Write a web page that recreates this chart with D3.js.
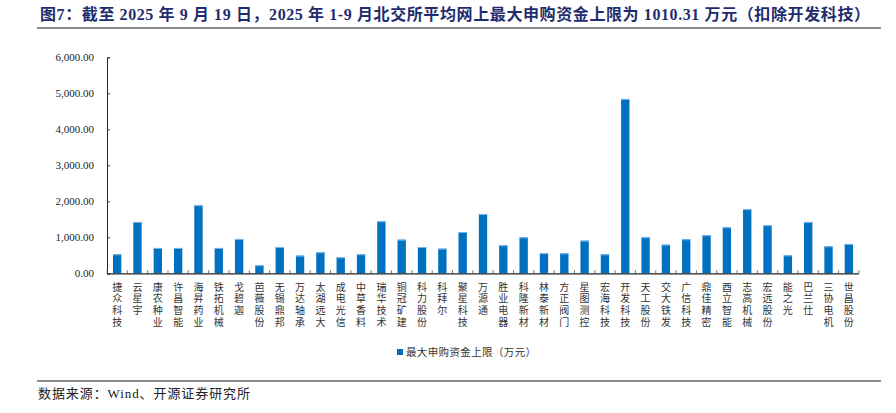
<!DOCTYPE html>
<html><head><meta charset="utf-8">
<script src="https://cdn.jsdelivr.net/npm/d3@7"></script>
<style>body{margin:0;background:#fff;} svg{display:block;}</style>
</head><body>
<svg id="c" width="896" height="413"></svg>
<script>
const titleText = "图7：截至 2025 年 9 月 19 日，2025 年 1-9 月北交所平均网上最大申购资金上限为 1010.31 万元（扣除开发科技）";
const categories = ["捷众科技","云星宇","康农种业","许昌智能","海昇药业","铁拓机械","戈碧迦","芭薇股份","无锡鼎邦","万达轴承","太湖远大","成电光信","中草香料","瑞华技术","铜冠矿建","科力股份","科拜尔","聚星科技","万源通","胜业电器","科隆新材","林泰新材","方正阀门","星图测控","宏海科技","开发科技","天工股份","交大铁发","广信科技","鼎佳精密","酉立智能","志高机械","宏远股份","能之光","巴兰仕","三协电机","世昌股份"];
const values = [528,1426,704,704,1889,704,954,222,731,491,583,444,528,1444,935,731,685,1148,1648,778,1000,556,556,907,528,4843,1000,796,944,1056,1278,1778,1333,500,1426,750,815];
const yTicks = [0,1000,2000,3000,4000,5000,6000];
const seriesName = "最大申购资金上限（万元）";
const sourceText = "数据来源：Wind、开源证券研究所";

const svg = d3.select("#c");
const L = 107, R = 859, T = 57.3, B = 273.3;
const x = d3.scaleBand().domain(categories).range([L, R]).paddingInner(0.59).paddingOuter(0.295);
const y = d3.scaleLinear().domain([0, 6000]).range([B, T]);
const cjk = "'Noto Sans CJK SC', sans-serif";
const serif = "'Liberation Serif', 'Noto Sans CJK SC', serif";

// title
svg.append("text").attr("x", 40).attr("y", 20).attr("font-family", serif).attr("font-weight", "bold")
  .attr("font-size", 16).attr("textLength", 830).attr("lengthAdjust", "spacing")
  .attr("fill", "#1f2d6e").text(titleText);
svg.append("line").attr("x1", 37).attr("x2", 881).attr("y1", 28).attr("y2", 28).attr("stroke", "#8c8c8c").attr("stroke-width", 2);

// y axis
const ya = svg.append("g").attr("transform", `translate(${L},0)`)
  .call(d3.axisLeft(y).tickValues(yTicks).tickSize(-3).tickPadding(13).tickFormat(d3.format(",.2f")));
ya.select(".domain").attr("stroke", "#222");
ya.selectAll(".tick line").attr("stroke", "#444");
ya.selectAll("text").attr("font-family", serif).attr("font-size", 11).attr("fill", "#222");

// bars
svg.append("g").selectAll("rect").data(values).join("rect")
  .attr("x", (d, i) => x(categories[i])).attr("width", x.bandwidth())
  .attr("y", d => y(d)).attr("height", d => B - y(d))
  .attr("fill", "#0070c0");
svg.append("g").selectAll("line").data(values).join("line")
  .attr("x1", (d, i) => x(categories[i])).attr("x2", (d, i) => x(categories[i]) + x.bandwidth())
  .attr("y1", d => y(d) + 0.5).attr("y2", d => y(d) + 0.5)
  .attr("stroke", "#7fb6e6").attr("stroke-width", 1);

// x axis with boundary ticks
const step = x.step();
const bounds = d3.range(categories.length + 1).map(i => L + i * step);
svg.append("g").selectAll("line").data(bounds).join("line")
  .attr("x1", d => d).attr("x2", d => d).attr("y1", B - 3).attr("y2", B)
  .attr("stroke", "#777").attr("stroke-width", 1);
svg.append("line").attr("x1", L).attr("x2", R).attr("y1", B + 0.5).attr("y2", B + 0.5).attr("stroke", "#222").attr("stroke-width", 1.2);

// x labels vertical (one text per label)
svg.append("g").selectAll("text").data(categories).join("text")
  .attr("x", c => x(c) + x.bandwidth() / 2).attr("y", 282)
  .style("writing-mode", "vertical-rl").style("text-orientation", "upright")
  .attr("dominant-baseline", "central")
  .attr("letter-spacing", 1.7)
  .attr("font-family", cjk).attr("font-size", 10).attr("fill", "#333").text(c => c);

// legend
svg.append("rect").attr("x", 397).attr("y", 349).attr("width", 6).attr("height", 6).attr("fill", "#0070c0");
svg.append("text").attr("x", 406).attr("y", 356).attr("font-family", cjk).attr("font-size", 10.5)
  .attr("textLength", 130).attr("lengthAdjust", "spacing").attr("fill", "#333").text(seriesName);

// footer
svg.append("line").attr("x1", 37).attr("x2", 881).attr("y1", 381).attr("y2", 381).attr("stroke", "#8c8c8c").attr("stroke-width", 2);
svg.append("text").attr("x", 38).attr("y", 398).attr("font-family", serif).attr("font-size", 13)
  .attr("textLength", 212).attr("lengthAdjust", "spacing").attr("fill", "#222").text(sourceText);
</script>
</body></html>
